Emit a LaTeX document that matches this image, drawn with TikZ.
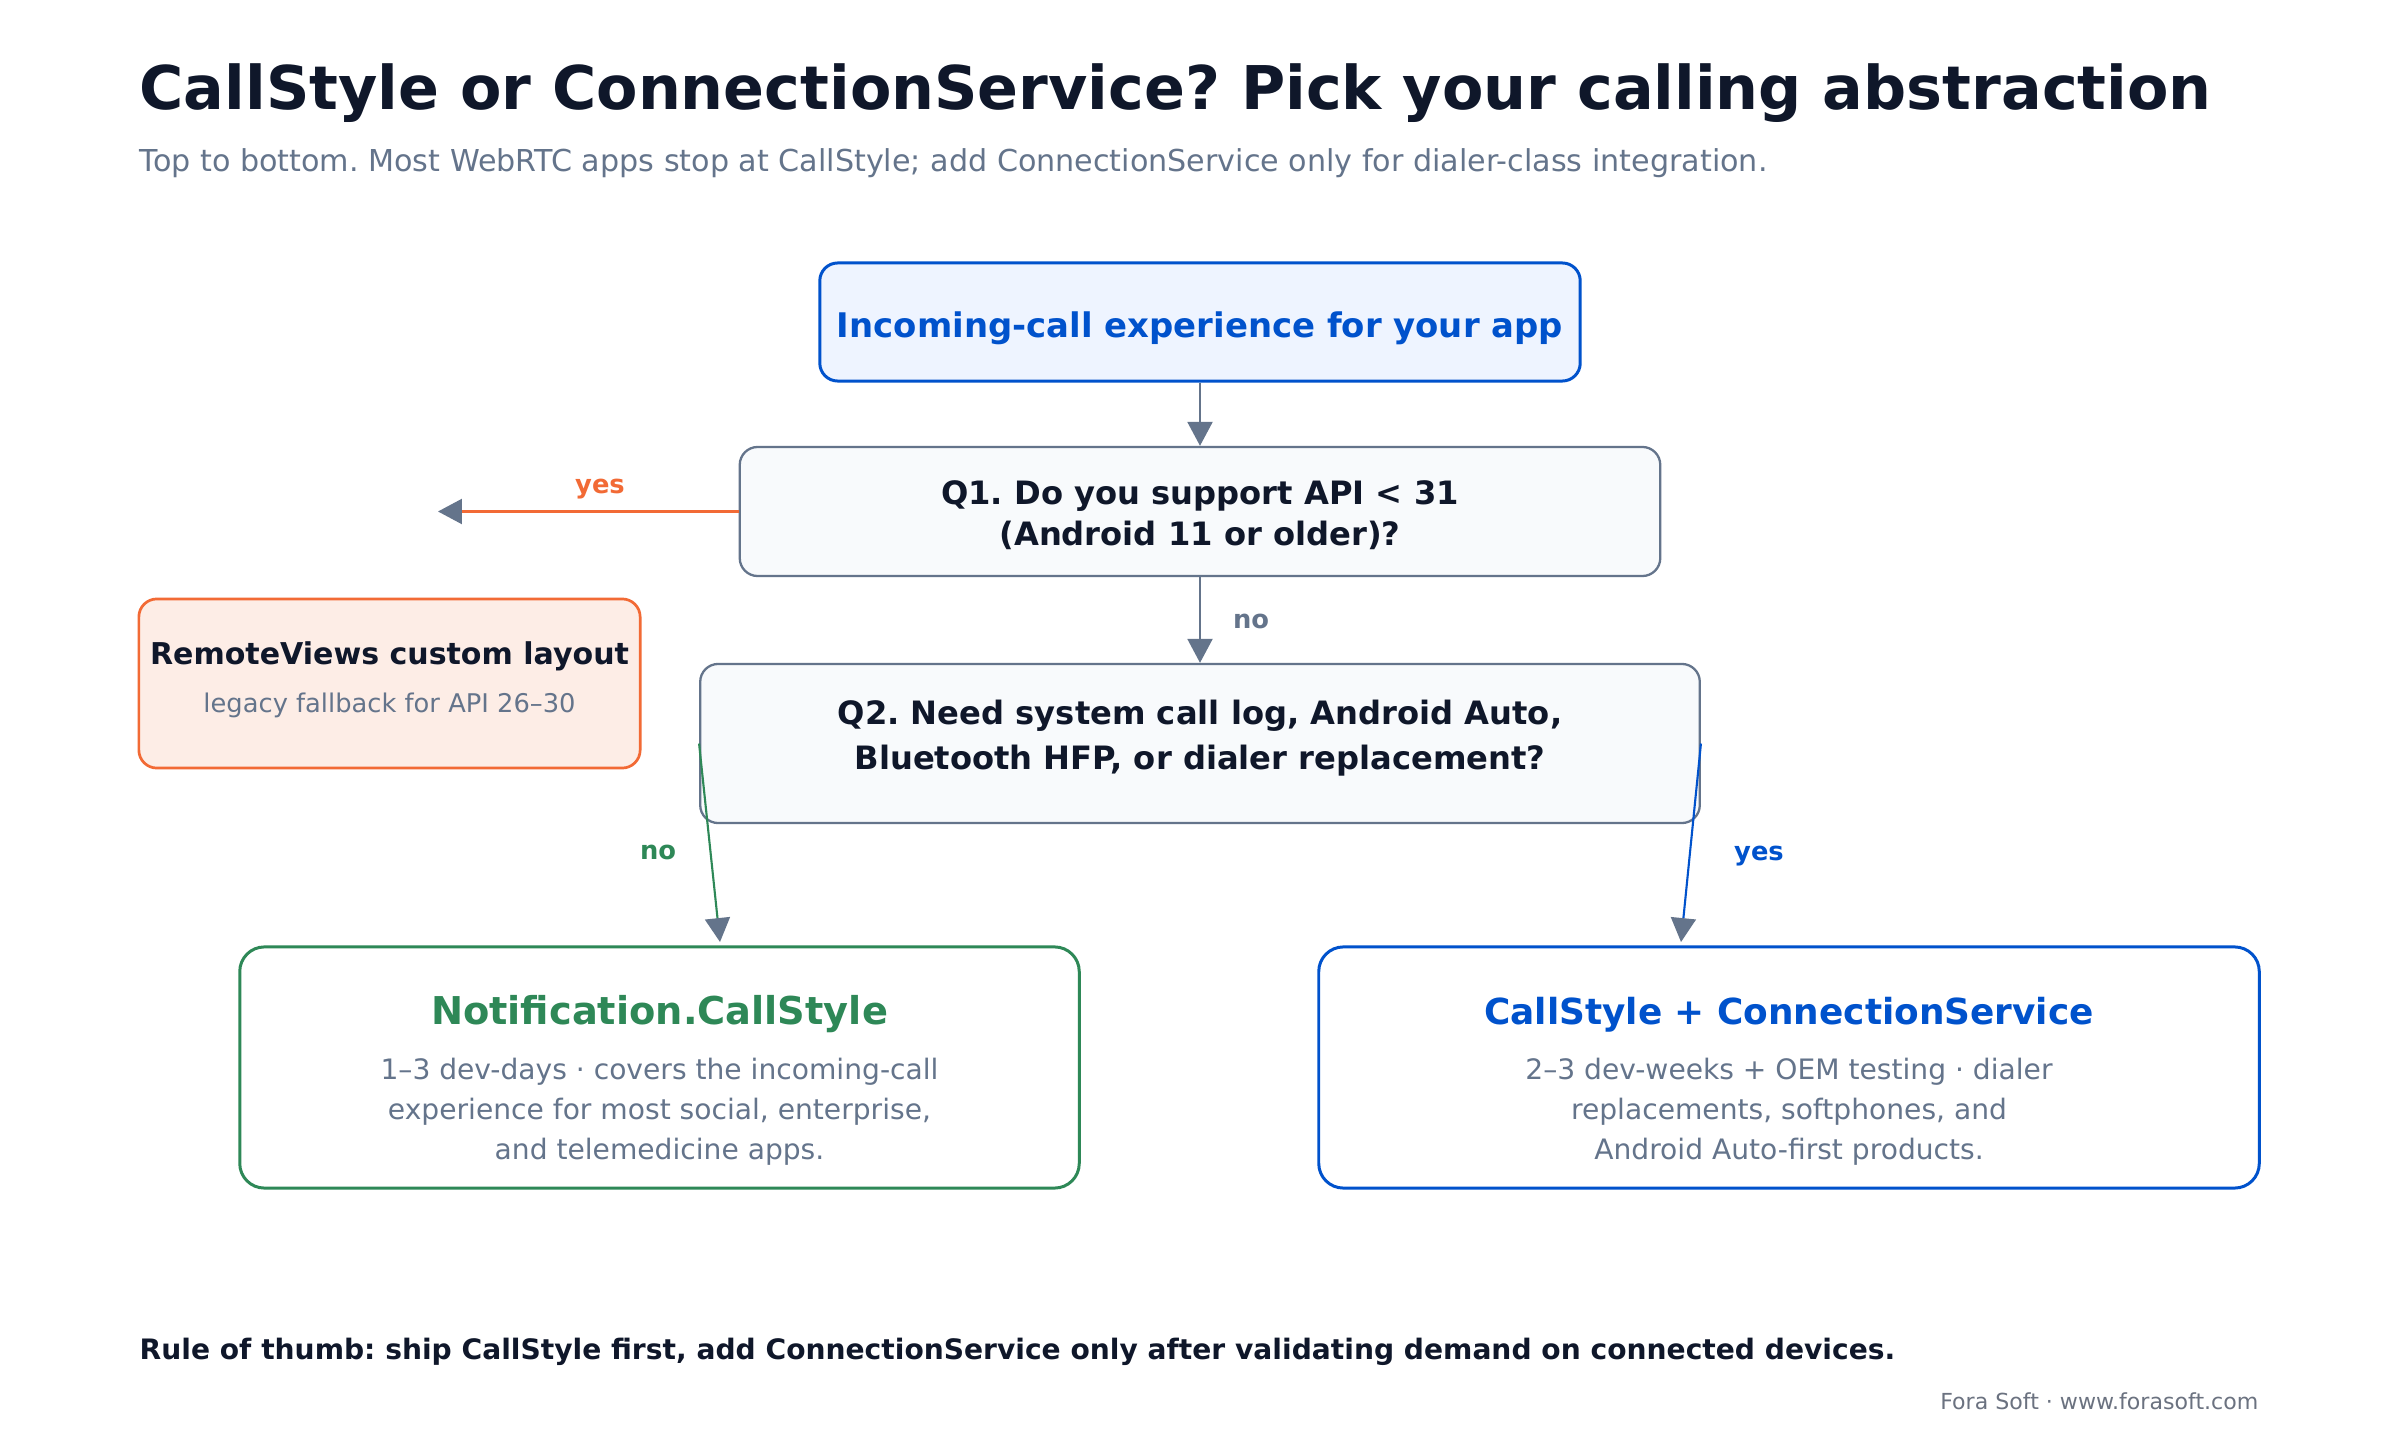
\documentclass[tikz,border=0pt]{standalone}
\usepackage{fontspec}
\setmainfont{DejaVu Sans}
\usepackage{xcolor}
\usetikzlibrary{arrows.meta, positioning}
\frenchspacing

\definecolor{ink}{HTML}{0F172A}
\definecolor{slate}{HTML}{64748B}
\definecolor{paleslate}{HTML}{F8FAFC}
\definecolor{callblue}{HTML}{0052CC}
\definecolor{paleblue}{HTML}{EEF4FF}
\definecolor{callgreen}{HTML}{2E8857}
\definecolor{callorange}{HTML}{F26A35}
\definecolor{paleorange}{HTML}{FDEDE6}
\definecolor{creditgray}{HTML}{6B7280}

\begin{document}
\begin{tikzpicture}[x=0.01cm, y=-0.01cm, every node/.style={inner sep=0pt},
  box/.style={draw, rounded corners=5.1pt, align=center},
  result/.style={draw, fill=white, rounded corners=7pt, line width=0.85pt,
    minimum height=2.41cm},
  flow/.style={line width=0.6pt, -{Triangle[length=6.8pt, width=7.1pt, color=slate]}},
  tag/.style={font=\fontsize{7.32}{9}\selectfont\bfseries},
  headline/.style={font=\fontsize{10.9}{13}\selectfont\bfseries},
  body/.style={font=\fontsize{8.0}{11.4}\selectfont, text=slate, align=center}]
  \fill[white] (0,0) rectangle (2400,1440);
  \useasboundingbox (0,0) rectangle (2400,1440);

  % Heading
  \node[anchor=base west, text=ink, font=\fontsize{17.15}{20}\selectfont\bfseries] (title)
    at (139,110) {CallStyle or ConnectionService? Pick your calling abstraction};
  \node[anchor=base west, text=slate, font=\fontsize{8.58}{10}\selectfont] (subtitle)
    at (139,172) {Top to bottom. Most WebRTC apps stop at CallStyle; add ConnectionService only for dialer-class integration.};

  % Entry and questions
  \node[box, draw=callblue, fill=paleblue, line width=0.85pt,
    minimum width=7.6cm, minimum height=1.18cm] (entry) at (1200,322) {};
  \node[text=callblue, font=\fontsize{9.64}{12}\selectfont\bfseries] (entrytext)
    at (1200,328) {Incoming-call experience for your app};
  \node[box, draw=slate, fill=paleslate, line width=0.65pt,
    minimum width=9.2cm, minimum height=1.29cm] (q1) at (1200,511.5) {};
  \node[text=ink, align=center, font=\fontsize{9.15}{11.8}\selectfont\bfseries] (q1text)
    at (1200,515) {Q1. Do you support API < 31\\(Android 11 or older)?};
  \node[box, draw=slate, fill=paleslate, line width=0.65pt,
    minimum width=9.99cm, minimum height=1.59cm] (q2) at (1200,743.5) {};
  \node[text=ink, align=center, font=\fontsize{9.15}{12.8}\selectfont\bfseries] (q2text)
    at (1200,738) {Q2. Need system call log, Android Auto,\\Bluetooth HFP, or dialer replacement?};

  % Legacy fallback
  \node[box, draw=callorange, fill=paleorange, line width=0.77pt,
    minimum width=5.01cm, minimum height=1.69cm] (remote) at (389.5,683.5) {};
  \node[anchor=base, text=ink, font=\fontsize{8.54}{10}\selectfont\bfseries] (remotetitle)
    at (389.5,664.5) {RemoteViews custom layout};
  \node[anchor=base, text=slate, font=\fontsize{7.32}{9}\selectfont] (remotesub)
    at (389.5,712.5) {legacy fallback for API 26–30};

  % Outcomes
  \node[result, draw=callgreen, minimum width=8.39cm] (callstyle) at (659.5,1067.5) {};
  \node[headline, anchor=base, text=callgreen] (callstyletitle) at (659.5,1024.5) {Notification.CallStyle};
  \node[body] (callstylebody) at (659.5,1112)
    {1–3 dev-days · covers the incoming-call\\experience for most social, enterprise,\\and telemedicine apps.};
  \node[result, draw=callblue, minimum width=9.4cm] (connsvc) at (1789,1067.5) {};
  \node[anchor=base, text=callblue, font=\fontsize{10.2}{13}\selectfont\bfseries] (connsvctitle)
    at (1789,1024.5) {CallStyle + ConnectionService};
  \node[body] (connsvcbody) at (1789,1112)
    {2–3 dev-weeks + OEM testing · dialer\\replacements, softphones, and\\Android Auto-first products.};

  % Connectors
  \coordinate (legacyend) at (438,511.5);
  \coordinate (noend) at (720,942);
  \coordinate (yesend) at (1681,942);
  \draw[flow, slate] (entry.south) -- (q1.north);
  \draw[flow, callorange] (q1.west) -- (legacyend);
  \draw[flow, slate] (q1.south) -- (q2.north);
  \draw[flow, callgreen] (q2.west) -- (noend);
  \draw[flow, callblue] (q2.east) -- (yesend);

  % Edge labels
  \node[tag, text=callorange] (q1yes) at (600,489) {yes};
  \node[tag, text=slate] (q1no) at (1251,621.5) {no};
  \node[tag, text=callgreen] (q2no) at (658,852) {no};
  \node[tag, text=callblue] (q2yes) at (1759,856) {yes};

  % Footer
  \node[anchor=base west, text=ink, font=\fontsize{8.0}{10}\selectfont\bfseries] (rule)
    at (139,1359) {Rule of thumb: ship CallStyle first, add ConnectionService only after validating demand on connected devices.};
  \node[anchor=base east, text=creditgray, font=\fontsize{6.28}{8}\selectfont] (credit)
    at (2259,1409) {Fora Soft · www.forasoft.com};
\end{tikzpicture}
\end{document}
